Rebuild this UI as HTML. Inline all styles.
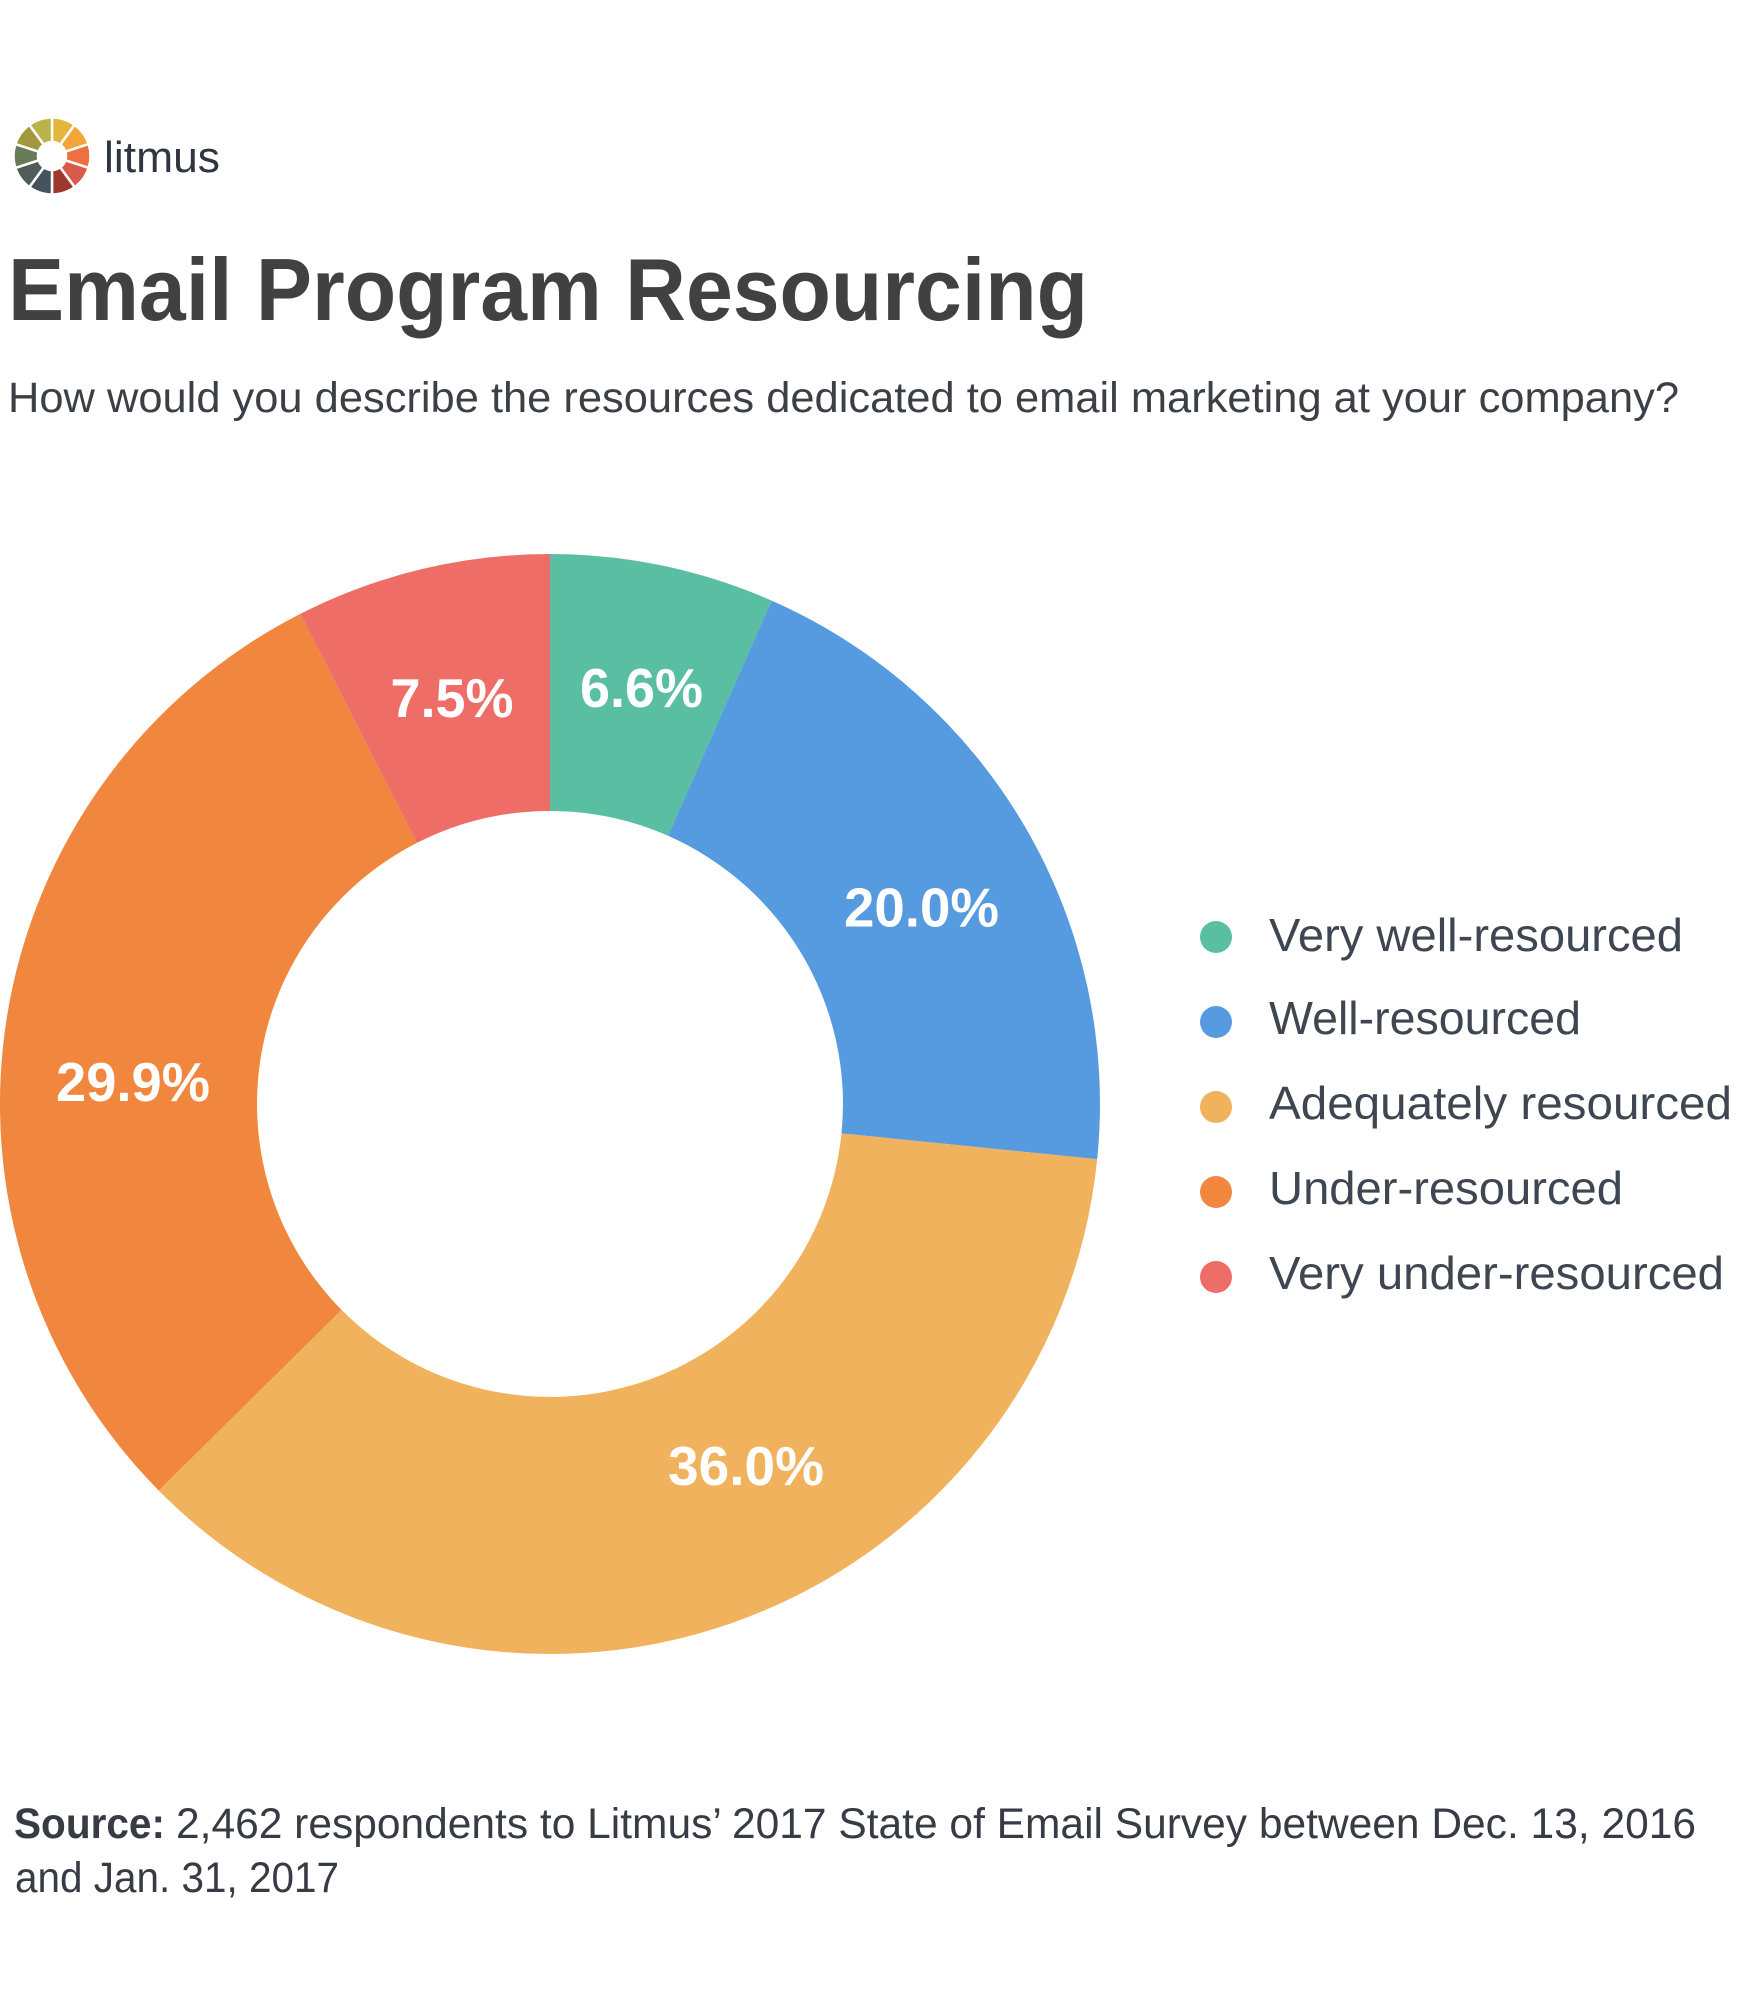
<!DOCTYPE html>
<html>
<head>
<meta charset="utf-8">
<style>
  html, body { margin: 0; padding: 0; background: #ffffff; }
  svg { display: block; }
  text { font-family: "Liberation Sans", Arial, sans-serif; }
</style>
</head>
<body>
<svg width="1747" height="1990" viewBox="0 0 1747 1990" xmlns="http://www.w3.org/2000/svg">
  <rect x="0" y="0" width="1747" height="1990" fill="#ffffff"/>

  <!-- Logo -->
  <g stroke="#ffffff" stroke-width="2.5" stroke-linejoin="miter">
    <path d="M52,117.5 A38.5,38.5 0 0 1 74.63,124.85 L60.23,144.67 A14,14 0 0 0 52,142 Z" fill="#E5B63D"/>
    <path d="M74.63,124.85 A38.5,38.5 0 0 1 88.62,144.10 L65.32,151.67 A14,14 0 0 0 60.23,144.67 Z" fill="#F2A63A"/>
    <path d="M88.62,144.10 A38.5,38.5 0 0 1 88.62,167.90 L65.32,160.33 A14,14 0 0 0 65.32,151.67 Z" fill="#EC7040"/>
    <path d="M88.62,167.90 A38.5,38.5 0 0 1 74.63,187.15 L60.23,167.33 A14,14 0 0 0 65.32,160.33 Z" fill="#D9594A"/>
    <path d="M74.63,187.15 A38.5,38.5 0 0 1 52,194.5 L52,170 A14,14 0 0 0 60.23,167.33 Z" fill="#9E372C"/>
    <path d="M52,194.5 A38.5,38.5 0 0 1 29.37,187.15 L43.77,167.33 A14,14 0 0 0 52,170 Z" fill="#45535E"/>
    <path d="M29.37,187.15 A38.5,38.5 0 0 1 15.38,167.90 L38.68,160.33 A14,14 0 0 0 43.77,167.33 Z" fill="#4F5C58"/>
    <path d="M15.38,167.90 A38.5,38.5 0 0 1 15.38,144.10 L38.68,151.67 A14,14 0 0 0 38.68,160.33 Z" fill="#697A56"/>
    <path d="M15.38,144.10 A38.5,38.5 0 0 1 29.37,124.85 L43.77,144.67 A14,14 0 0 0 38.68,151.67 Z" fill="#A1983F"/>
    <path d="M29.37,124.85 A38.5,38.5 0 0 1 52,117.5 L52,142 A14,14 0 0 0 43.77,144.67 Z" fill="#BBB24A"/>
  </g>
  <text x="104" y="172" font-size="44" fill="#2F3641" textLength="116" lengthAdjust="spacingAndGlyphs">litmus</text>

  <!-- Title -->
  <text x="8" y="320" font-size="88" font-weight="bold" fill="#414143" textLength="1080" lengthAdjust="spacingAndGlyphs">Email Program Resourcing</text>

  <!-- Subtitle -->
  <text x="8" y="412" font-size="43" fill="#3B3F46" textLength="1671" lengthAdjust="spacingAndGlyphs">How would you describe the resources dedicated to email marketing at your company?</text>

  <!-- Donut -->
  <path d="M550,554 A550,550 0 0 1 771.6,600.6 L668.0,835.8 A293,293 0 0 0 550,811 Z" fill="#5ABFA2"/>
  <path d="M771.6,600.6 A550,550 0 0 1 1097.2,1159.2 L841.5,1133.4 A293,293 0 0 0 668.0,835.8 Z" fill="#569AE0"/>
  <path d="M1097.2,1159.2 A550,550 0 0 1 158.7,1490.5 L341.6,1309.9 A293,293 0 0 0 841.5,1133.4 Z" fill="#F1B25D"/>
  <path d="M158.7,1490.5 A550,550 0 0 1 300.3,613.9 L417.0,842.9 A293,293 0 0 0 341.6,1309.9 Z" fill="#F1873E"/>
  <path d="M300.3,613.9 A550,550 0 0 1 550,554 L550,811 A293,293 0 0 0 417.0,842.9 Z" fill="#EF6D67"/>

  <!-- Slice labels -->
  <g font-size="55" font-weight="bold" fill="#ffffff" text-anchor="middle">
    <text x="641.5" y="707" textLength="123" lengthAdjust="spacingAndGlyphs">6.6%</text>
    <text x="452" y="717" textLength="123" lengthAdjust="spacingAndGlyphs">7.5%</text>
    <text x="921.5" y="926.5" textLength="155" lengthAdjust="spacingAndGlyphs">20.0%</text>
    <text x="746" y="1485" textLength="156" lengthAdjust="spacingAndGlyphs">36.0%</text>
    <text x="133" y="1101" textLength="154" lengthAdjust="spacingAndGlyphs">29.9%</text>
  </g>

  <!-- Legend -->
  <circle cx="1216" cy="937" r="16" fill="#5ABFA2"/>
  <circle cx="1216" cy="1022" r="16" fill="#569AE0"/>
  <circle cx="1216" cy="1107" r="16" fill="#F1B25D"/>
  <circle cx="1216" cy="1192" r="16" fill="#F1873E"/>
  <circle cx="1216" cy="1277" r="16" fill="#EF6D67"/>
  <g font-size="46" fill="#3E4651">
    <text x="1269" y="951" textLength="414" lengthAdjust="spacingAndGlyphs">Very well-resourced</text>
    <text x="1269" y="1034" textLength="312" lengthAdjust="spacingAndGlyphs">Well-resourced</text>
    <text x="1269" y="1119" textLength="463" lengthAdjust="spacingAndGlyphs">Adequately resourced</text>
    <text x="1269" y="1204" textLength="354" lengthAdjust="spacingAndGlyphs">Under-resourced</text>
    <text x="1269" y="1289" textLength="455" lengthAdjust="spacingAndGlyphs">Very under-resourced</text>
  </g>

  <!-- Source -->
  <text x="14" y="1838" font-size="43" font-weight="bold" fill="#363B44" textLength="151" lengthAdjust="spacingAndGlyphs">Source:</text>
  <text x="176" y="1838" font-size="43" fill="#363B44" textLength="1520" lengthAdjust="spacingAndGlyphs">2,462 respondents to Litmus’ 2017 State of Email Survey between Dec. 13, 2016</text>
  <text x="15" y="1892" font-size="43" fill="#363B44" textLength="324" lengthAdjust="spacingAndGlyphs">and Jan. 31, 2017</text>
</svg>
</body>
</html>
